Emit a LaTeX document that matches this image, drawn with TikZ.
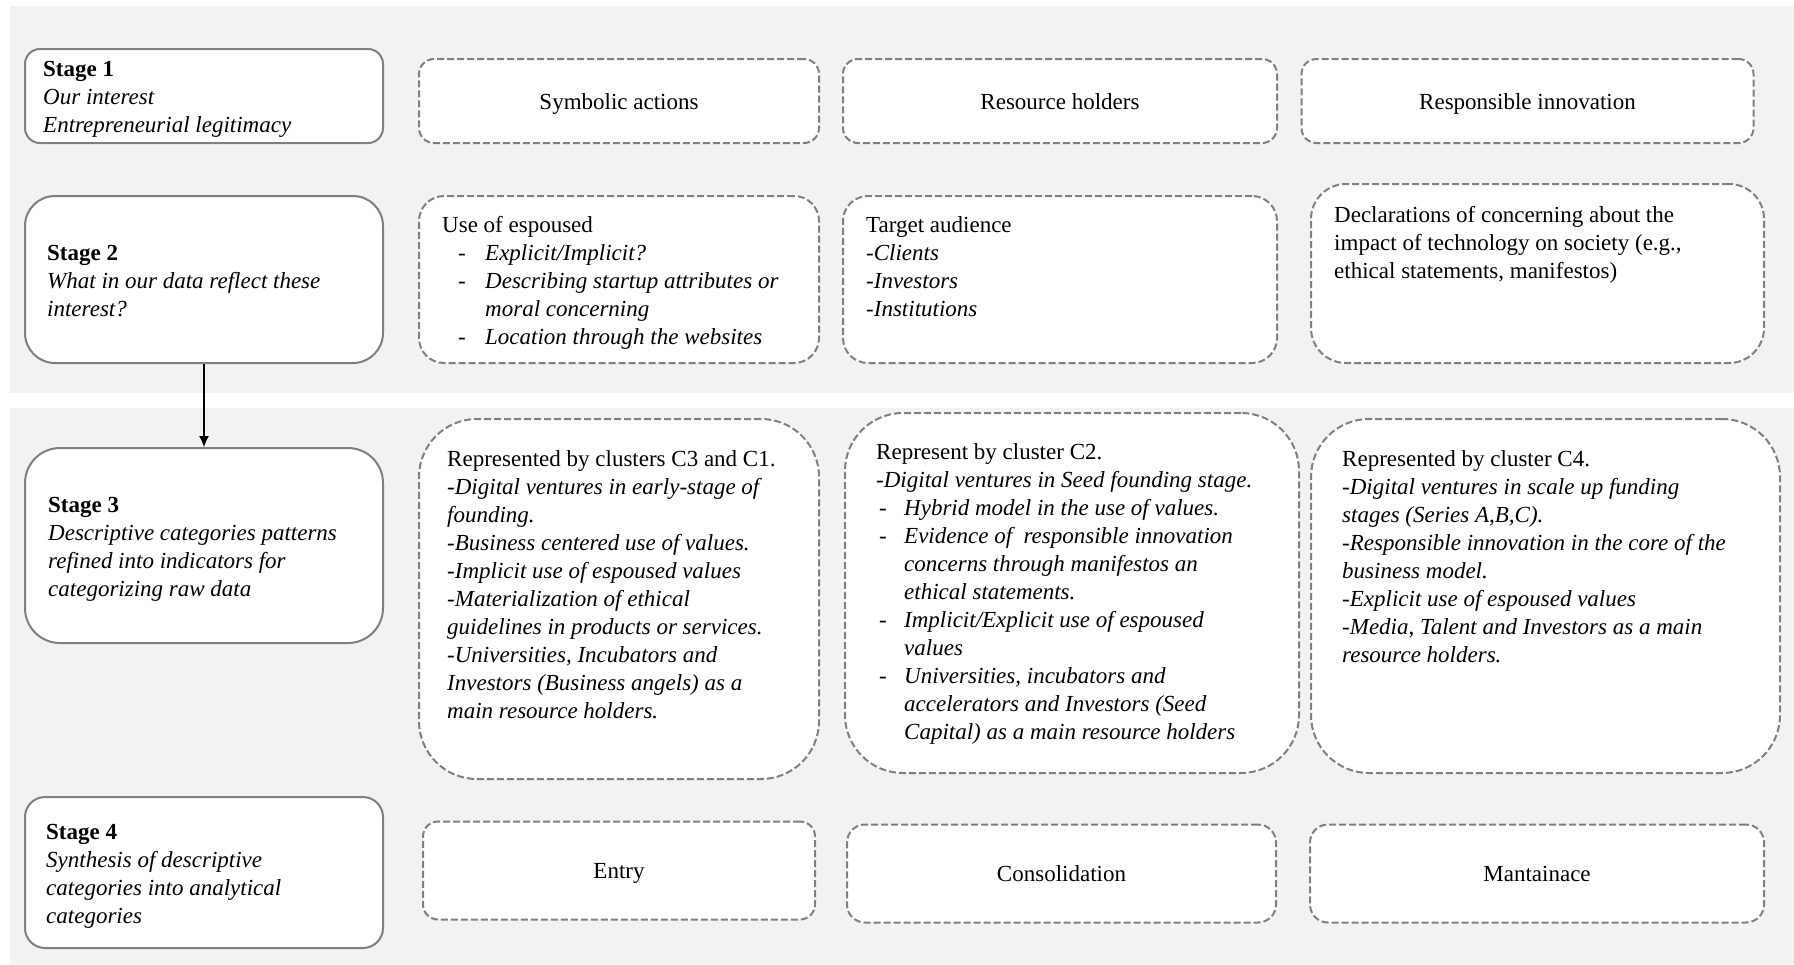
\documentclass[tikz,border=0pt]{standalone}
\usepackage{fontspec}
\setmainfont{Liberation Serif}
\usetikzlibrary{arrows.meta}
\definecolor{panelgray}{HTML}{F2F2F2}
\definecolor{boxline}{HTML}{7F7F7F}
\definecolor{dashline}{HTML}{808080}
\tikzset{
  panel/.style={fill=panelgray, draw=none},
  stagebox/.style={draw=boxline, line width=2pt, fill=white, inner sep=0pt},
  dashbox/.style={draw=dashline, line width=2pt, dash pattern=on 7pt off 3pt, fill=white, inner sep=0pt},
  txt/.style={anchor=north west, inner sep=0pt, align=left, font=\fontsize{23}{28}\selectfont},
  ctxt/.style={inner sep=0pt, text height=16pt, text depth=0pt, font=\fontsize{23}{28}\selectfont},
}
\newcommand{\dsh}{\hspace*{16pt}\makebox[27pt][l]{-}}
\newcommand{\dind}{\hspace*{43pt}}
\newcommand{\dshb}{\hspace*{3pt}\makebox[25pt][l]{-}}
\newcommand{\dindb}{\hspace*{28pt}}
\begin{document}
\begin{tikzpicture}[x=1pt,y=-1pt]
\useasboundingbox (0,0) rectangle (1794,964);
\fill[white] (0,0) rectangle (1794,964);
% panels
\path[panel] (10,6) rectangle (1794,393);
\path[panel] (10,408) rectangle (1794,964);

% stage boxes
\node[stagebox, rounded corners=15pt, minimum width=358pt, minimum height=94pt] (s1) at (204,96) {};
\node[stagebox, rounded corners=30pt, minimum width=358pt, minimum height=167pt] (s2) at (204,279.5) {};
\node[stagebox, rounded corners=35pt, minimum width=358pt, minimum height=195pt] (s3) at (204,545.5) {};
\node[stagebox, rounded corners=20pt, minimum width=358pt, minimum height=151pt] (s4) at (204,872.5) {};

% row 1
\node[dashbox, rounded corners=15pt, minimum width=400pt, minimum height=84pt] (a1) at (619,101) {};
\node[dashbox, rounded corners=15pt, minimum width=434pt, minimum height=84pt] (b1) at (1060,101) {};
\node[dashbox, rounded corners=15pt, minimum width=452pt, minimum height=84pt] (c1) at (1527.5,101) {};
% row 2
\node[dashbox, rounded corners=25pt, minimum width=400pt, minimum height=167pt] (a2) at (619,279.5) {};
\node[dashbox, rounded corners=25pt, minimum width=434pt, minimum height=167pt] (b2) at (1060,279.5) {};
\node[dashbox, rounded corners=35pt, minimum width=453pt, minimum height=179pt] (c2) at (1537.5,273.5) {};
% row 3
\node[dashbox, rounded corners=58pt, minimum width=400pt, minimum height=360pt] (a3) at (619,599) {};
\node[dashbox, rounded corners=58pt, minimum width=454pt, minimum height=360pt] (b3) at (1072,593) {};
\node[dashbox, rounded corners=58pt, minimum width=469pt, minimum height=354pt] (c3) at (1545.5,596) {};
% row 4
\node[dashbox, rounded corners=15pt, minimum width=392pt, minimum height=98pt] (a4) at (619,870.5) {};
\node[dashbox, rounded corners=18pt, minimum width=429pt, minimum height=98pt] (b4) at (1061.5,873.5) {};
\node[dashbox, rounded corners=18pt, minimum width=454pt, minimum height=98pt] (c4) at (1537,873.5) {};

% arrow
\draw[line width=1.2pt, -{Latex[length=11pt,width=10pt]}] (s2.south) -- (s3.north);

% stage texts
\node[txt] (t1) at (43,56.4) {\strut\textbf{Stage 1}\\ \textit{Our interest}\\ \textit{Entrepreneurial legitimacy}};
\node[txt] (t2) at (47,240.4) {\strut\textbf{Stage 2}\\ \textit{What in our data reflect these}\\ \textit{interest?}};
\node[txt] (t3) at (48,492.4) {\strut\textbf{Stage 3}\\ \textit{Descriptive categories patterns}\\ \textit{refined into indicators for}\\ \textit{categorizing raw data}};
\node[txt] (t4) at (46,819.4) {\strut\textbf{Stage 4}\\ \textit{Synthesis of descriptive}\\ \textit{categories into analytical}\\ \textit{categories}};

% row 1 texts
\node[ctxt] (ta1) at (a1) {Symbolic actions};
\node[ctxt] (tb1) at (b1) {Resource holders};
\node[ctxt] (tc1) at (c1) {Responsible innovation};

% row 2 texts
\node[txt] (ta2) at (442,212.4) {\strut Use of espoused\\ \dsh\textit{Explicit/Implicit?}\\ \dsh\textit{Describing startup attributes or}\\ \dind\textit{moral concerning}\\ \dsh\textit{Location through the websites}};
\node[txt] (tb2) at (866,212.4) {\strut Target audience\\ -\textit{Clients}\\ -\textit{Investors}\\ -\textit{Institutions}};
\node[txt] (tc2) at (1334,202.4) {\strut Declarations of concerning about the\\ impact of technology on society (e.g.,\\ ethical statements, manifestos)};

% row 3 texts
\node[txt] (ta3) at (447,446.4) {\strut Represented by clusters C3 and C1.\\ -\textit{Digital ventures in early-stage of}\\ \textit{founding.}\\ -\textit{Business centered use of values.}\\ -\textit{Implicit use of espoused values}\\ -\textit{Materialization of ethical}\\ \textit{guidelines in products or services.}\\ -\textit{Universities, Incubators and}\\ \textit{Investors (Business angels) as a}\\ \textit{main resource holders.}};
\node[txt] (tb3) at (876,439.4) {\strut Represent by cluster C2.\\ -\textit{Digital ventures in Seed founding stage.}\\ \dshb\textit{Hybrid model in the use of values.}\\ \dshb\textit{Evidence of\ \ responsible innovation}\\ \dindb\textit{concerns through manifestos an}\\ \dindb\textit{ethical statements.}\\ \dshb\textit{Implicit/Explicit use of espoused}\\ \dindb\textit{values}\\ \dshb\textit{Universities, incubators and}\\ \dindb\textit{accelerators and Investors (Seed}\\ \dindb\textit{Capital) as a main resource holders}};
\node[txt] (tc3) at (1342,446.4) {\strut Represented by cluster C4.\\ -\textit{Digital ventures in scale up funding}\\ \textit{stages (Series A,B,C).}\\ -\textit{Responsible innovation in the core of the}\\ \textit{business model.}\\ -\textit{Explicit use of espoused values}\\ -\textit{Media, Talent and Investors as a main}\\ \textit{resource holders.}};

% row 4 texts
\node[ctxt] (ta4) at (a4) {Entry};
\node[ctxt] (tb4) at (b4) {Consolidation};
\node[ctxt] (tc4) at (c4) {Mantainace};
\end{tikzpicture}
\end{document}
